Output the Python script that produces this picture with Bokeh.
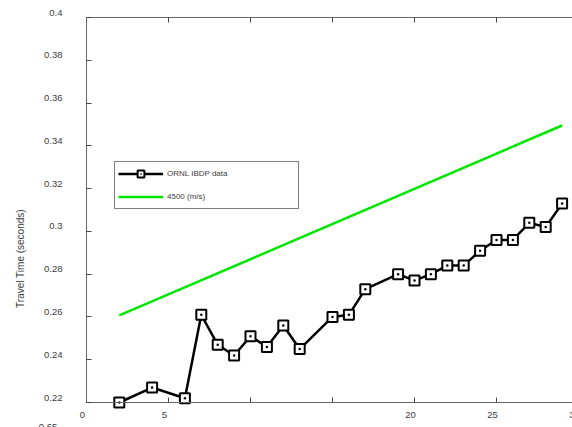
from bokeh.plotting import figure
from bokeh.models import Range1d, LinearAxis, FixedTicker, Legend, LegendItem
from bokeh.core.properties import value
from bokeh.embed import file_html
from bokeh.resources import INLINE
import math

# Measured first-arrival travel times
obs_x = [2, 4, 6, 7, 8, 9, 10, 11, 12, 13, 15, 16, 17, 19, 20, 21, 22, 23,
         24, 25, 26, 27, 28, 29]
obs_t = [0.220, 0.227, 0.222, 0.261, 0.247, 0.242, 0.251, 0.246, 0.256,
         0.245, 0.260, 0.261, 0.273, 0.280, 0.277, 0.280, 0.284, 0.284,
         0.291, 0.296, 0.296, 0.304, 0.302, 0.313]

# Constant-velocity reference line
vel_x = [2, 29]
vel_t = [0.2607, 0.3495]

# Tick positions and labels
y_ticks = [0.22, 0.24, 0.26, 0.28, 0.30, 0.32, 0.34, 0.36, 0.38, 0.40]
y_tick_labels = ["0.22", "0.24", "0.26", "0.28", "0.3", "0.32", "0.34",
                 "0.36", "0.38", "0.4"]
x_ticks = [0, 5, 10, 15, 20, 25, 30]
x_label_pos = [0, 5, 20, 25, 30]
x_tick_labels = ["0", "5", "20", "25", "30"]

FONT = "Liberation Sans"
TXT = "#3c3c3c"
AX = "#666666"

# The frame spans the whole canvas; axes are pinned inside it so that
# markers sitting on the axes are not cut off.
PX_X = 1 / 16.4
PX_Y = 0.18 / 385
p = figure(width=572, height=427, output_backend="svg", toolbar_location=None,
           x_range=Range1d(-86 * PX_X, (572 - 86) * PX_X),
           y_range=Range1d(0.22 - 25 * PX_Y, 0.40 + 17 * PX_Y),
           x_axis_location=None, y_axis_location=None,
           min_border_left=0, min_border_right=0, min_border_top=0,
           min_border_bottom=0)
p.grid.grid_line_color = None
p.outline_line_color = None


def plain_axis(ticks, **kw):
    return LinearAxis(ticker=FixedTicker(ticks=ticks), major_tick_in=5,
                      major_tick_out=0, minor_tick_line_color=None,
                      axis_line_color=AX, major_tick_line_color="#444444",
                      major_label_text_color=None,
                      major_label_text_font_size="1px", major_label_standoff=0,
                      **kw)


p.add_layout(plain_axis(y_ticks, fixed_location=0, bounds=(0.22, 0.40)), "left")
p.add_layout(plain_axis(x_ticks, fixed_location=0.22, bounds=(0, 30)), "below")
p.add_layout(plain_axis(x_ticks, fixed_location=0.40, bounds=(0, 30)), "above")

# Reference line and observed data
g = p.line(vel_x, vel_t, line_color="#00e600", line_width=2.5)
r1 = p.line(obs_x, obs_t, line_color="black", line_width=2.5)
r2 = p.scatter(obs_x, obs_t, marker="square_dot", size=10, line_color="black",
               line_width=2, fill_color="white")

# Tick labels
p.text(x=[0] * len(y_ticks), y=y_ticks, text=y_tick_labels, x_offset=-24,
       y_offset=-5, text_align="right", text_baseline="middle",
       text_font=value(FONT), text_font_size="9.5px", text_color=TXT)
p.text(x=x_label_pos, y=[0.22] * len(x_label_pos), text=x_tick_labels,
       x_offset=-4, y_offset=12, text_align="center", text_baseline="middle",
       text_font=value(FONT), text_font_size="9.5px", text_color=TXT)

# Axis title
p.text(x=[-4.02], y=[0.2873], text=["Travel Time (seconds)"], angle=math.pi / 2,
       text_align="center", text_baseline="middle", text_font=value(FONT),
       text_font_size="10px", text_color=TXT)
p.text(x=[-2.35], y=[0.2085], text=["0.65"], text_align="center",
       text_baseline="middle", text_font=value(FONT), text_font_size="9.5px",
       text_color=TXT)

legend = Legend(items=[LegendItem(label="ORNL IBDP data", renderers=[r1, r2]),
                       LegendItem(label="4500 (m/s)", renderers=[g])],
                location=(114, 218), glyph_width=45, glyph_height=17,
                label_height=17, label_width=128, label_standoff=4,
                spacing=6, padding=3, margin=0,
                label_text_font=FONT, label_text_font_size="8px",
                label_text_baseline="bottom",
                label_text_color=TXT, border_line_color="black",
                border_line_width=1, background_fill_color="white",
                background_fill_alpha=1)
p.add_layout(legend)

open("out.html", "w").write(file_html(p, INLINE))
